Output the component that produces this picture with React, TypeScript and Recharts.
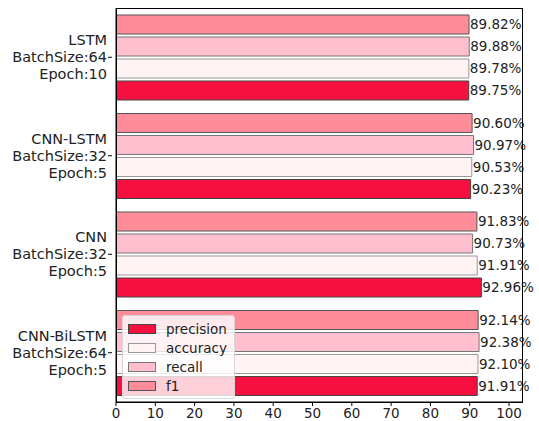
import React from 'react';
import { BarChart, Bar, XAxis, YAxis, LabelList } from 'recharts';

// values, top group first
const models = ['LSTM', 'CNN-LSTM', 'CNN', 'CNN-BiLSTM'];
const batchInfo = ['BatchSize:64', 'BatchSize:32', 'BatchSize:32', 'BatchSize:64'];
const epochInfo = ['Epoch:10', 'Epoch:5', 'Epoch:5', 'Epoch:5'];
const precision = [89.75, 90.23, 92.96, 91.91];
const accuracy = [89.78, 90.53, 91.91, 92.10];
const recall = [89.88, 90.97, 90.73, 92.38];
const f1 = [89.82, 90.6, 91.83, 92.14];
const xTicks = [0, 10, 20, 30, 40, 50, 60, 70, 80, 90, 100];

const FONT = '"DejaVu Sans", sans-serif';

const data = models.map((m, i) => ({
  model: m,
  batch: batchInfo[i],
  epoch: epochInfo[i],
  precision: precision[i],
  accuracy: accuracy[i],
  recall: recall[i],
  f1: f1[i],
}));

// drawn top to bottom inside each group
const series = [
  { key: 'f1', fill: '#FF8C99', stroke: '#555555' },
  { key: 'recall', fill: '#FFBFCE', stroke: '#777777' },
  { key: 'accuracy', fill: '#FFF3F3', stroke: '#999999' },
  { key: 'precision', fill: '#F5103F', stroke: '#444444' },
];

const legendOrder = ['precision', 'accuracy', 'recall', 'f1'];

const YTick = (props: any) => {
  const { x, y, payload, index } = props;
  const row = data[index] || data.find((d) => d.model === payload.value);
  const lines = row ? [row.model, row.batch, row.epoch] : [payload.value];
  return (
    <g>
      <line x1={x} x2={x + 4} y1={y} y2={y} stroke="#000" />
      {lines.map((t, i) => (
        <text
          key={i}
          x={x - 1}
          y={y + (i - 1) * 17 + 5}
          textAnchor="end"
          fontSize={14.5}
          fontFamily={FONT}
          fill="#222"
        >
          {t}
        </text>
      ))}
    </g>
  );
};

const LegendBox = () => (
  <div
    style={{
      position: 'absolute',
      left: 122,
      top: 315,
      background: 'rgba(255,255,255,0.8)',
      border: '1px solid #d6d6d6',
      borderRadius: 3,
      padding: '3px 6px 3px 5px',
      width: 100,
      fontFamily: FONT,
      fontSize: 13.5,
      color: '#222',
    }}
  >
    {legendOrder.map((k) => {
      const s = series.find((x) => x.key === k)!;
      return (
        <div key={k} style={{ display: 'flex', alignItems: 'center', height: 19 }}>
          <span
            style={{
              display: 'inline-block',
              width: 28,
              height: 10,
              background: s.fill,
              border: `1px solid ${s.stroke}`,
              boxSizing: 'border-box',
              marginRight: 10,
            }}
          />
          {k}
        </div>
      );
    })}
  </div>
);

export default function App() {
  return (
    <div style={{ position: 'fixed', left: 0, top: 0, width: 539, height: 421, background: '#fff' }}>
      <BarChart
        width={539}
        height={421}
        data={data}
        layout="vertical"
        margin={{ top: 8, right: 17, left: 0, bottom: 0 }}
        barSize={19}
        barGap={3}
      >
        <XAxis
          type="number"
          domain={[0, 103.3]}
          ticks={xTicks}
          allowDataOverflow
          height={19}
          tick={{ fontSize: 13.5, fill: '#222', fontFamily: FONT }}
          tickLine={{ stroke: '#000' }}
          tickSize={4}
          axisLine={{ stroke: '#000' }}
        />
        <YAxis
          type="category"
          dataKey="model"
          width={116}
          tick={<YTick />}
          tickLine={false}
          axisLine={{ stroke: '#000' }}
          interval={0}
        />
        {series.map((s) => (
          <Bar
            key={s.key}
            dataKey={s.key}
            fill={s.fill}
            stroke={s.stroke}
            strokeWidth={1}
            isAnimationActive={false}
          >
            <LabelList
              dataKey={s.key}
              position="right"
              offset={1}
              fontSize={13.5}
              fontFamily={FONT}
              fill="#222"
              formatter={(v: any) => `${Number(v).toFixed(2)}%`}
            />
          </Bar>
        ))}
      </BarChart>
      <LegendBox />
      <div
        style={{
          position: 'absolute',
          left: 116,
          top: 8,
          width: 407,
          height: 395,
          border: '1px solid #000',
          boxSizing: 'border-box',
          pointerEvents: 'none',
        }}
      />
    </div>
  );
}
